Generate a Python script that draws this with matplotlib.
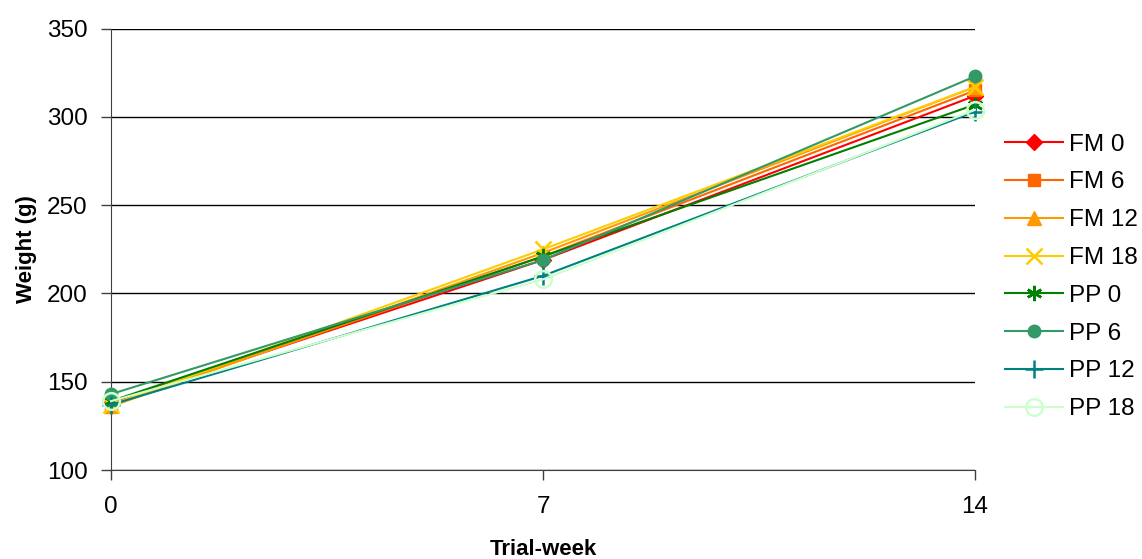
import numpy as np
import matplotlib.pyplot as plt

weeks = [0, 7, 14]
names = ["FM 0", "FM 6", "FM 12", "FM 18", "PP 0", "PP 6", "PP 12", "PP 18"]
fm0 = [138, 219, 312]
fm6 = [137, 221, 315]
fm12 = [136, 223, 317]
fm18 = [137, 225, 317]
pp0 = [139, 221, 307]
pp6 = [143, 219, 323]
pp12 = [137, 210, 303]
pp18 = [139, 208, 304]
series = [fm0, fm6, fm12, fm18, pp0, pp6, pp12, pp18]

colors = ["#FF0000", "#FF6600", "#FF9900", "#FFCC00",
          "#008000", "#339966", "#008080", "#CCFFCC"]
markers = ["D", "s", "^", "x", (6, 2, 0), "o", "+", "o"]
msizes = [8, 8, 10, 11, 11, 9, 13, 12]

plt.rcParams['font.family'] = ['Liberation Sans', 'DejaVu Sans']

fig = plt.figure(figsize=(11.42, 5.59), dpi=100)
ax = fig.add_axes([0.0972, 0.1592, 0.8538 - 0.0972, 0.9487 - 0.1592])

for i in range(len(series)):
    face = 'none' if i == 7 else colors[i]
    thin = markers[i] in ["x", "+", (6, 2, 0)] or i == 7
    ax.plot(weeks, series[i], color=colors[i], lw=1.5, marker=markers[i],
            markersize=msizes[i], markerfacecolor=face, markeredgecolor=colors[i],
            markeredgewidth=1.8 if thin else 1,
            label=names[i], clip_on=False, zorder=3 + i)

ax.set_xlim(0, 14)
ax.set_ylim(100, 350)
ax.set_xticks(weeks)
ax.set_yticks(np.arange(100, 351, 50))
ax.yaxis.grid(True, color="black", lw=1)
ax.set_axisbelow(True)
for s in ["top", "right"]:
    ax.spines[s].set_visible(False)
for s in ["left", "bottom"]:
    ax.spines[s].set_color("#404040")
ax.tick_params(axis="both", labelsize=17.5, length=7, width=1, color="#404040")
ax.tick_params(axis="x", pad=12)
ax.tick_params(axis="y", pad=10)
ax.set_xlabel("Trial-week", fontsize=16, fontweight="bold", labelpad=15)
ax.set_ylabel("Weight (g)", fontsize=16, fontweight="bold", labelpad=7)

ax.legend(loc="upper left", bbox_to_anchor=(0.880, 0.761),
          bbox_transform=fig.transFigure, frameon=False, borderpad=0,
          borderaxespad=0, fontsize=17.5, handlelength=2.4,
          labelspacing=0.65, handletextpad=0.25)

fig.savefig("out.png", dpi=100)
